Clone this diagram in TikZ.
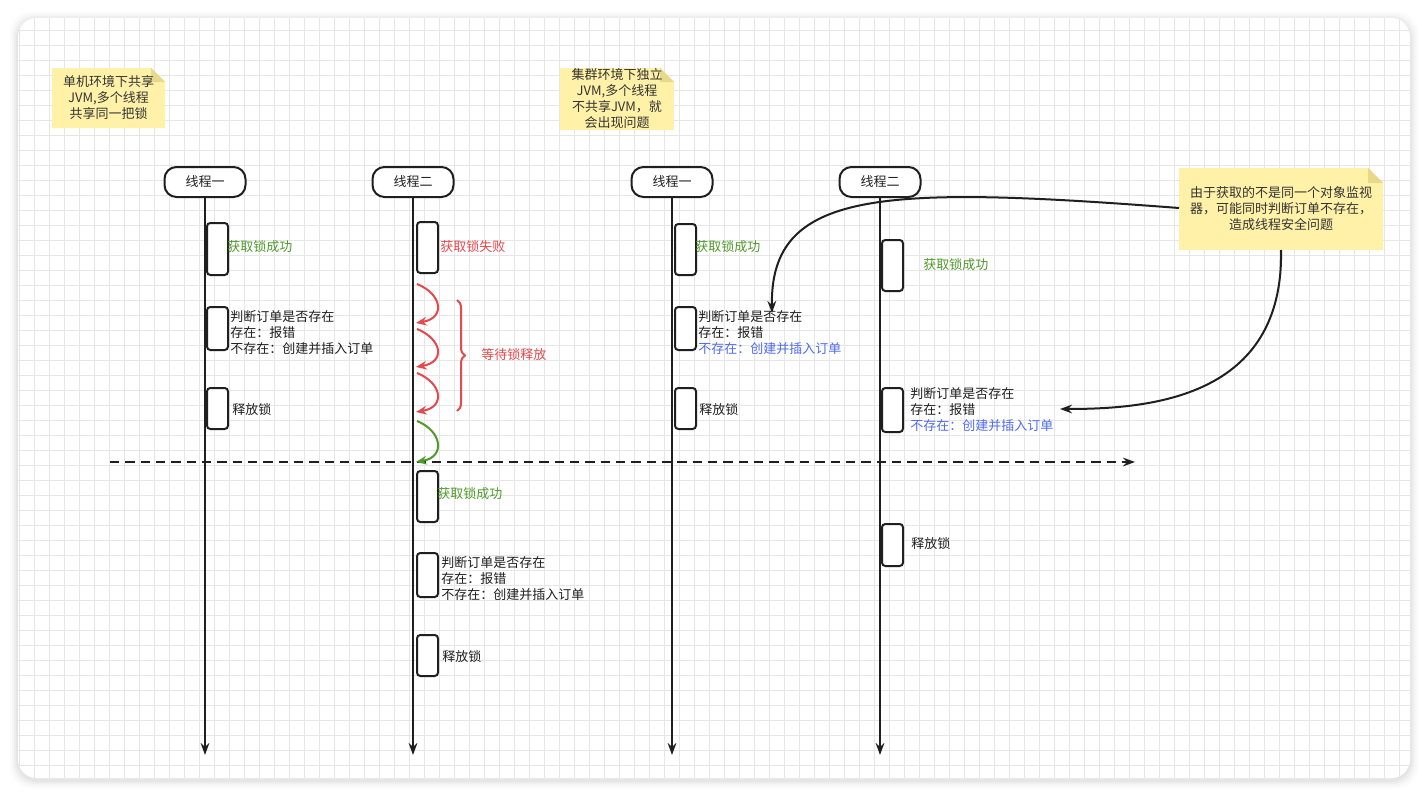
\documentclass[tikz,border=0pt]{standalone}
\usepackage{fontspec}
\setmainfont{Noto Sans CJK SC}
\usetikzlibrary{arrows.meta,decorations.pathreplacing}
\definecolor{okgreen}{HTML}{4E9A2A}
\definecolor{errred}{HTML}{E5484D}
\definecolor{infoblue}{HTML}{4F6BF0}
\definecolor{notefill}{HTML}{FFF2A8}
\definecolor{notefold}{HTML}{E8D88A}
\definecolor{gridc}{HTML}{E6E6E6}
\definecolor{ink}{HTML}{1F1F1F}
\definecolor{notetext}{HTML}{333333}
\newcommand\lblfont{\fontsize{9.75pt}{12pt}\selectfont}
\tikzset{
  head/.style={draw=ink, line width=1.5pt, rounded corners=9pt, minimum width=60.75pt,
    minimum height=22.5pt, fill=white, font=\lblfont, text=ink, inner sep=0pt},
  actbox/.style={draw=ink, line width=1.5pt, rounded corners=2.5pt, minimum width=15.75pt,
    anchor=north west, fill=white, inner sep=0pt},
  lbl/.style={anchor=west, inner sep=0pt, font=\lblfont, text=ink, align=left},
  notetxt/.style={inner sep=0pt, font=\lblfont, text=notetext, align=center},
  life/.style={draw=ink, line width=1.5pt, -{Stealth[length=9pt,width=6.5pt]}},
  selfarrow/.style={line width=1.5pt, -{Stealth[length=8pt,width=6.5pt]}},
  callout/.style={draw=ink, line width=1.5pt, -{Stealth[length=9pt,width=6.5pt]}},
}
\begin{document}
\begin{tikzpicture}[x=0.75pt,y=-0.75pt]
\useasboundingbox (0,0) rectangle (1428,796);
% shadow and canvas
\foreach \o/\op in {8/0.015,6/0.02,4/0.03,2/0.04}{
  \fill[black,opacity=\op,rounded corners=16pt] (18-\o,18-\o+2) rectangle (1410+\o,778+\o+2);
}
\fill[white,rounded corners=14pt] (18,18) rectangle (1410,778);
\begin{scope}
  \clip[rounded corners=14pt] (18,18) rectangle (1410,778);
  \foreach \gx in {0,...,92}{\draw[gridc,line width=0.75pt] (19+15*\gx,18) -- (19+15*\gx,778);}
  \foreach \gy in {1,...,51}{\draw[gridc,line width=0.75pt] (18,15*\gy) -- (1410,15*\gy);}
\end{scope}

% notes
\fill[notefill] (52,68) -- (151,68) -- (165,82) -- (165,128) -- (52,128) -- cycle;
\fill[notefold] (151,68) -- (165,82) -- (151,82) -- cycle;
\node[notetxt] (n1) at (108.5,98) {单机环境下共享\\JVM,多个线程\\共享同一把锁};

\fill[notefill] (560,68) -- (660,68) -- (674,82) -- (674,130) -- (560,130) -- cycle;
\fill[notefold] (660,68) -- (674,82) -- (660,82) -- cycle;
\node[notetxt] (n2) at (617,99) {集群环境下独立\\JVM,多个线程\\不共享JVM，就\\会出现问题};

\fill[notefill] (1179,168) -- (1368,168) -- (1383,183) -- (1383,250) -- (1179,250) -- cycle;
\fill[notefold] (1368,168) -- (1383,183) -- (1368,183) -- cycle;
\node[notetxt] (n3) at (1281,209) {由于获取的不是同一个对象监视\\器，可能同时判断订单不存在，\\造成线程安全问题};

% lifeline heads
\node[head] (h1) at (205,182) {线程一};
\node[head] (h2) at (413,182) {线程二};
\node[head] (h3) at (672,182) {线程一};
\node[head] (h4) at (880,182) {线程二};

% lifelines
\coordinate (e1) at (205,755);
\coordinate (e2) at (413,755);
\coordinate (e3) at (672,755);
\coordinate (e4) at (880,755);
\draw[life] (h1.south) -- (e1);
\draw[life] (h2.south) -- (e2);
\draw[life] (h3.south) -- (e3);
\draw[life] (h4.south) -- (e4);

% dashed separator
\coordinate (d1) at (110,462);
\coordinate (d2) at (1135,462);
\draw[ink,line width=1.5pt,dash pattern=on 7pt off 4.5pt,-{Stealth[length=9pt,width=6.5pt]}] (d1) -- (d2);

% thread 1 (single)
\node[actbox,minimum height=39pt] (a11) at (206,222) {};
\node[lbl,text=okgreen] (l11) at (227,247) {获取锁成功};
\node[actbox,minimum height=32.25pt] (a12) at (206,306) {};
\node[lbl] (l12) at (230,333) {判断订单是否存在\\存在：报错\\不存在：创建并插入订单};
\node[actbox,minimum height=30.75pt] (a13) at (206,387) {};
\node[lbl] (l13) at (232,410) {释放锁};

% thread 2 (single)
\node[actbox,minimum height=38.25pt] (a21) at (416,221) {};
\node[lbl,text=errred] (l21) at (440,247) {获取锁失败};

\coordinate (r1s) at (417,284); \coordinate (r1e) at (416,323);
\coordinate (r2s) at (417,329); \coordinate (r2e) at (416,367);
\coordinate (r3s) at (417,373); \coordinate (r3e) at (416,412);
\coordinate (g1s) at (417,421); \coordinate (g1e) at (416,462);
\draw[selfarrow,errred] (r1s) .. controls (442,294) and (446,318) .. (r1e);
\draw[selfarrow,errred] (r2s) .. controls (442,339) and (446,362) .. (r2e);
\draw[selfarrow,errred] (r3s) .. controls (442,383) and (446,407) .. (r3e);
\draw[selfarrow,okgreen] (g1s) .. controls (442,431) and (446,457) .. (g1e);

\coordinate (b1) at (457,300); \coordinate (b2) at (457,411);
\draw[errred,line width=1.5pt,decorate,decoration={brace,amplitude=6pt}] (b1) -- (b2);
\node[lbl,text=errred] (wait) at (481,355) {等待锁释放};

\node[actbox,minimum height=38.25pt] (a22) at (416,470) {};
\node[lbl,text=okgreen] (l22) at (437,494) {获取锁成功};
\node[actbox,minimum height=33pt] (a23) at (416,552) {};
\node[lbl] (l23) at (441,579) {判断订单是否存在\\存在：报错\\不存在：创建并插入订单};
\node[actbox,minimum height=30.75pt] (a24) at (416,634) {};
\node[lbl] (l24) at (442,657) {释放锁};

% thread 1 (cluster)
\node[actbox,minimum height=38.25pt] (a31) at (674,223) {};
\node[lbl,text=okgreen] (l31) at (695,247) {获取锁成功};
\node[actbox,minimum height=32.25pt] (a32) at (674,306) {};
\node[lbl] (l32) at (698,333) {判断订单是否存在\\存在：报错\\{\color{infoblue}不存在：创建并插入订单}};
\node[actbox,minimum height=30.75pt] (a33) at (674,387) {};
\node[lbl] (l33) at (699,410) {释放锁};

% thread 2 (cluster)
\node[actbox,minimum height=38.25pt] (a41) at (881,239) {};
\node[lbl,text=okgreen] (l41) at (923,265) {获取锁成功};
\node[actbox,minimum height=33pt] (a42) at (881,387) {};
\node[lbl] (l42) at (910,410) {判断订单是否存在\\存在：报错\\{\color{infoblue}不存在：创建并插入订单}};
\node[actbox,minimum height=31.5pt] (a43) at (881,523) {};
\node[lbl] (l43) at (911,544) {释放锁};

% callout arrows
\coordinate (n3w) at (1179,208);
\coordinate (n3s) at (1281,250);
\coordinate (t1) at (772,313);
\coordinate (t2) at (1060,409);
\draw[callout] (n3w) .. controls (880,185) and (770,190) .. (t1);
\draw[callout] (n3s) .. controls (1284,398) and (1150,409) .. (t2);
\end{tikzpicture}
\end{document}
